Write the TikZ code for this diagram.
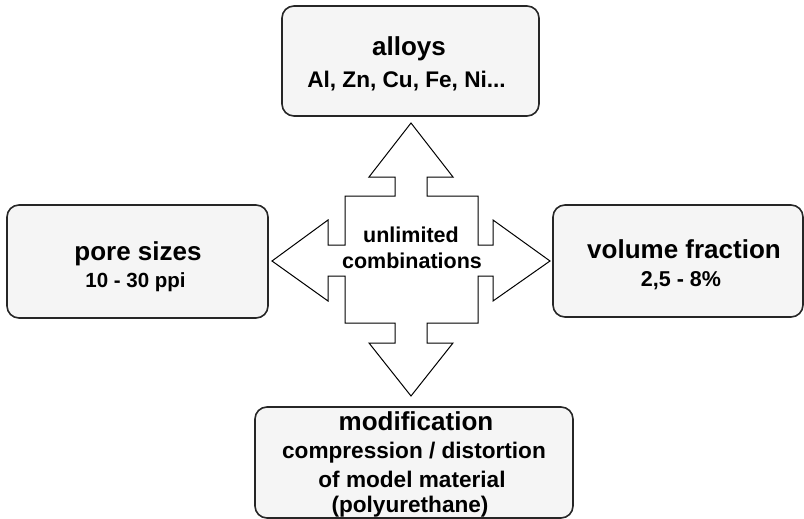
\documentclass[tikz,border=0pt]{standalone}
\usepackage{fontspec}
\setmainfont{Liberation Sans}
\tikzset{
  panel/.style={draw=black!85, line width=1.6pt, rounded corners=12pt, fill=black!4, inner sep=0pt},
  title/.style={font=\bfseries\fontsize{26}{30}\selectfont, anchor=base, inner sep=0pt},
  detail/.style={font=\bfseries\fontsize{21.5}{26}\selectfont, anchor=base, inner sep=0pt},
  wide detail/.style={detail, font=\bfseries\fontsize{22.6}{27}\selectfont},
  hubarrow/.style={draw=black, line width=1pt, fill=white, line join=miter}
}
\begin{document}
\begin{tikzpicture}[x=1pt,y=-1pt]
\useasboundingbox (0,0) rectangle (804,519);

% the four parameter panels
\node[panel, minimum width=257pt, minimum height=110pt] (alloys) at (410.5,61) {};
\node[panel, minimum width=261pt, minimum height=113pt] (pores)  at (137.5,261.5) {};
\node[panel, minimum width=250pt, minimum height=112pt] (volume) at (678,261) {};
\node[panel, minimum width=318pt, minimum height=111pt] (modif)  at (414,462.5) {};

% four-way arrow in the middle
\coordinate (hub) at (411,260);
\begin{scope}[shift={(hub)}]
\draw[hubarrow]
  (0,-137) -- (42,-83) -- (16,-83) -- (16,-64) -- (67,-64) -- (67,-15)
  -- (82,-15) -- (82,-40) -- (139,1) -- (82,41) -- (82,16) -- (67,16)
  -- (67,63) -- (16,63) -- (16,83) -- (42,83) -- (0,136) -- (-42,83)
  -- (-16,83) -- (-16,63) -- (-66,63) -- (-66,16) -- (-83,16) -- (-83,41)
  -- (-139,1) -- (-83,-40) -- (-83,-15) -- (-66,-15) -- (-66,-64)
  -- (-16,-64) -- (-16,-83) -- (-42,-83) -- cycle;
\end{scope}

% texts
\node[title]       (alloys-t) at (409,56)   {alloys};
\node[wide detail] (alloys-d) at (406.5,88) {Al, Zn, Cu, Fe, Ni...};

\node[title]  (pores-t) at (138,260)   {pore sizes};
\node[detail, font=\bfseries\fontsize{20.5}{25}\selectfont] (pores-d) at (135.5,287) {10 - 30 ppi};

\node[title]  (volume-t) at (684,258) {volume fraction};
\node[detail] (volume-d) at (681,286) {2,5 - 8\%};

\node[detail] (hub-t1) at (411,242) {unlimited};
\node[detail] (hub-t2) at (412,268) {combinations};

\node[title]       (modif-t)  at (416,430) {modification};
\node[wide detail] (modif-d1) at (414,458) {compression / distortion};
\node[wide detail] (modif-d2) at (412,487) {of model material};
\node[wide detail] (modif-d3) at (410,512) {(polyurethane)};
\end{tikzpicture}
\end{document}
